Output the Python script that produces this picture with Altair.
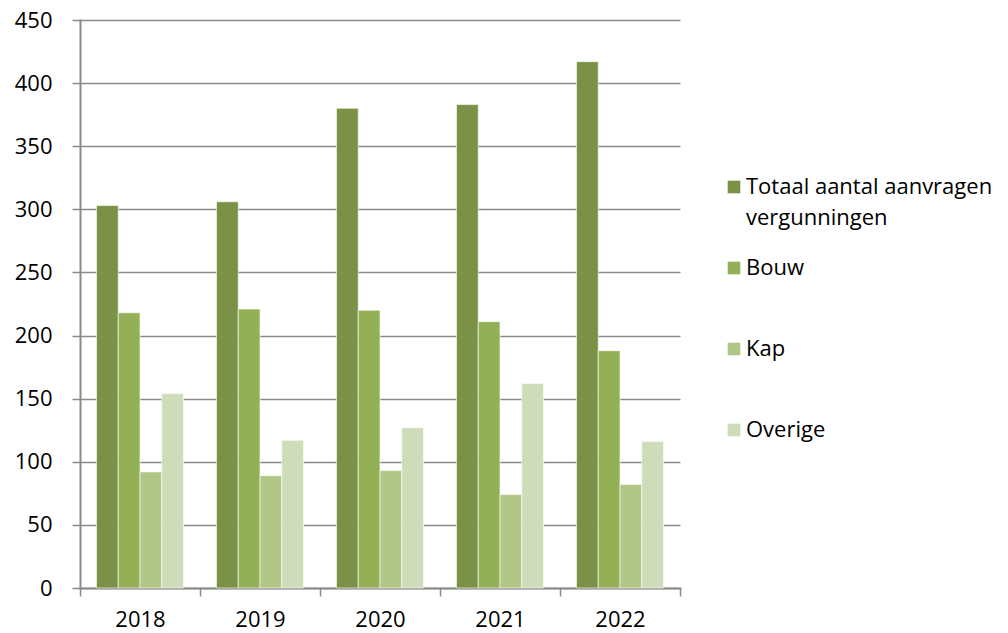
import altair as alt
import pandas as pd

years = ["2018", "2019", "2020", "2021", "2022"]
series = ["Totaal aantal aanvragen vergunningen", "Bouw", "Kap", "Overige"]
totaal = [303, 306, 380, 383, 417]
bouw = [218, 221, 220, 211, 188]
kap = [92, 89, 93, 74, 82]
overige = [154, 117, 127, 162, 116]
colors = ["#7b9246", "#93b057", "#b0c787", "#cfdcb9"]

rows = []
for s, vals in zip(series, [totaal, bouw, kap, overige]):
    for y, v in zip(years, vals):
        rows.append({"jaar": y, "serie": s, "aantal": v})
df = pd.DataFrame(rows)

FONT = "Open Sans"
GRID = "#8a8a8a"

chart = alt.Chart(df).mark_bar(stroke="white", strokeWidth=0.6).encode(
    x=alt.X("jaar:N", sort=years, title=None,
            scale=alt.Scale(paddingInner=0, paddingOuter=0),
            axis=alt.Axis(labelAngle=0, tickBand="extent", tickSize=8,
                          tickColor=GRID, tickWidth=1.5, domainColor=GRID,
                          domainWidth=2, labelFont=FONT, labelFontSize=22,
                          labelLineHeight=22,
                          labelColor="#000000", labelPadding=13, grid=False)),
    xOffset=alt.XOffset("serie:N", sort=series,
                        scale=alt.Scale(paddingInner=0, paddingOuter=0.76)),
    y=alt.Y("aantal:Q", title=None,
            scale=alt.Scale(domain=[0, 450], nice=False),
            axis=alt.Axis(values=list(range(0, 451, 50)), tickSize=8,
                          tickColor=GRID, tickWidth=1.5, domainColor=GRID,
                          domainWidth=2, gridColor=GRID, gridWidth=1.6,
                          labelFont=FONT, labelFontSize=22, labelLineHeight=24,
                          labelColor="#000000", labelPadding=20)),
    color=alt.Color("serie:N", sort=series,
                    scale=alt.Scale(domain=series, range=colors),
                    legend=alt.Legend(
                        title=None, orient="none", legendX=643, legendY=156,
                        symbolType="square", symbolSize=160, symbolStrokeWidth=0,
                        labelFont=FONT, labelFontSize=22, labelColor="#000000",
                        labelOffset=1, labelLimit=400, rowPadding=28,
                        gridAlign="all",
                        labelExpr="datum.label == 'Totaal aantal aanvragen vergunningen' ? ['Totaal aantal aanvragen', 'vergunningen'] : datum.label")),
).properties(
    width=600, height=568,
    autosize=alt.AutoSizeParams(type="none"),
    padding={"left": 72, "top": 12, "right": 320, "bottom": 45},
).configure(
    style={"guide-label": {"lineHeight": 31}}
).configure_view(stroke=None).configure_axis(domainCap="square")

chart.save("out.html", embed_options={"renderer": "svg", "actions": False})
